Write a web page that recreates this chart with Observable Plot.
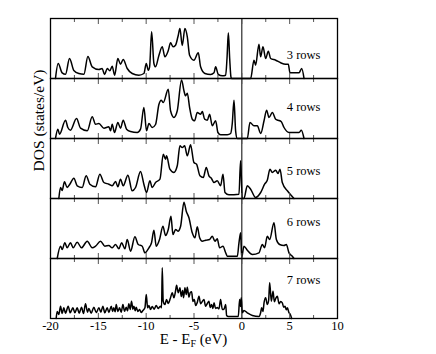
<!DOCTYPE html>
<html><head><meta charset="utf-8">
<script src="https://cdn.jsdelivr.net/npm/d3@7"></script>
<script src="https://cdn.jsdelivr.net/npm/@observablehq/plot@0.6"></script>
<style>body{margin:0;background:#fff} svg{display:block}</style>
</head><body><div id="chart"></div>
<script>
const panels = ["3 rows", "4 rows", "5 rows", "6 rows", "7 rows"];

// [E - EF (eV), DOS] (arbitrary units, 0..60 per panel)
const rows3 = [[-19.48,0],[-19.2,15],[-18.78,5.7],[-18.43,4.3],[-18.01,20],[-17.56,8],[-17.04,5],[-16.51,4.3],[-16.09,22],[-15.64,11.7],[-14.94,9],[-14.6,10],[-14.35,4],[-14.07,10],[-13.8,7.7],[-13.55,12.3],[-13.3,3.3],[-12.96,20],[-12.68,14.3],[-12.4,19],[-11.98,10],[-11.46,5],[-10.76,3.3],[-10.24,5],[-9.99,15],[-9.78,8.3],[-9.64,11.7],[-9.43,46.7],[-9.19,15],[-9.02,11.7],[-8.67,23],[-8.32,31.7],[-8.04,21.7],[-7.69,28],[-7.45,35.7],[-7.2,31.7],[-6.93,33.3],[-6.68,41.7],[-6.47,50],[-6.23,33],[-5.95,50],[-5.7,41.7],[-5.46,23.3],[-5.01,18.3],[-4.55,25.7],[-4.31,11.7],[-3.86,5],[-3.26,4],[-2.91,5.7],[-2.74,11.7],[-2.46,4],[-2.04,2.7],[-1.69,3.3],[-1.55,20],[-1.41,45.7],[-1.27,20],[-1.14,1.7],[-1.07,0],[0.92,0],[1.27,18.3],[1.44,13.3],[1.79,34.3],[1.96,21.7],[2.21,31.7],[2.49,20],[2.77,27.3],[3.01,20],[3.54,18.3],[4.06,15.7],[4.58,14.3],[4.86,14.3],[5.03,5.7],[5.98,5.7],[6.26,10],[6.5,0]];
const rows4 = [[-19.48,0],[-19.23,9.3],[-19.06,4.3],[-18.43,18.3],[-18.19,11],[-17.91,8.3],[-17.28,20],[-16.86,10.3],[-16.16,7.7],[-15.64,21.7],[-15.29,14.3],[-14.94,15],[-14.42,10.3],[-13.9,11.7],[-13.72,7.7],[-13.55,14.3],[-13.31,6],[-12.96,16],[-12.68,10.3],[-12.4,18.3],[-12.05,9.3],[-11.63,7],[-10.93,6],[-10.59,9.3],[-10.24,31],[-9.96,7.7],[-9.71,15],[-9.37,11],[-9.02,14],[-8.67,34],[-8.42,38.3],[-8.21,36],[-7.69,49.3],[-7.45,27.7],[-7.1,21],[-6.75,27.7],[-6.3,58.5],[-6.05,47.7],[-5.88,42.7],[-5.7,45.3],[-5.46,31],[-5.18,19.3],[-4.94,17.7],[-4.66,26],[-4.31,24.3],[-4.13,27],[-3.89,19.3],[-3.61,18.3],[-3.37,24.3],[-3.09,12.7],[-2.74,17.7],[-2.5,6],[-2.22,3.7],[-1.52,3.7],[-1.17,5],[-1.0,15],[-0.82,38.3],[-0.65,7.7],[-0.48,0],[0.57,0],[0.85,16],[1.27,12.7],[1.62,12.7],[1.97,5],[2.32,17.7],[2.59,28.3],[2.84,21],[3.19,26],[3.54,19.3],[3.78,18.3],[4.13,16.7],[4.41,11],[4.93,6],[5.98,6],[6.22,8.3],[6.5,0]];
const rows5 = [[-19.13,0],[-18.95,11],[-18.78,8],[-18.54,16.7],[-18.26,11],[-17.98,14.3],[-17.56,20.3],[-17.21,12.7],[-16.69,11],[-16.27,22.7],[-15.89,14.3],[-15.29,11.7],[-14.84,24.3],[-14.42,16],[-13.9,14.3],[-13.55,12.7],[-13.2,17],[-12.96,11.7],[-12.68,19.3],[-12.4,12.7],[-11.91,23.3],[-11.46,7.7],[-11.11,11],[-10.59,27],[-10.24,14.3],[-9.96,6],[-9.61,17.7],[-9.37,11],[-9.02,16],[-8.56,19.3],[-8.21,44.3],[-7.97,39.3],[-7.87,42.7],[-7.52,29.3],[-7.1,26],[-6.75,32.7],[-6.47,52.7],[-6.23,51],[-5.98,52.7],[-5.7,42.7],[-5.36,53.7],[-5.01,36],[-4.73,34.3],[-4.38,22.7],[-4.03,21],[-3.72,31],[-3.44,22.7],[-3.19,20.3],[-2.91,16],[-2.57,17.7],[-2.22,12.7],[-1.97,24.3],[-1.76,6],[-1.35,3.7],[-0.3,4.3],[-0.13,37.7],[0.05,0],[0.22,0],[0.57,12.7],[0.92,9.3],[1.44,1],[1.97,6],[2.38,14.3],[2.66,18.3],[2.94,29.3],[3.19,26],[3.54,28.3],[3.78,25],[3.99,29.3],[4.23,16],[4.76,7.7],[5.1,3.7],[5.45,0]];
const rows6 = [[-19.3,0],[-18.95,12.3],[-18.78,9],[-18.5,15.7],[-18.26,10.7],[-17.91,15.7],[-17.63,10.7],[-17.21,16.3],[-16.76,10.7],[-16.16,17.3],[-15.64,10.7],[-15.29,12.3],[-14.77,17.3],[-14.32,12.3],[-13.9,13],[-13.55,10.7],[-13.2,14],[-12.85,9.7],[-12.57,15.7],[-12.22,9.7],[-11.98,19],[-11.63,7.3],[-11.18,21.7],[-10.83,14],[-10.41,12.3],[-10.13,5.7],[-9.71,10.7],[-9.44,15.7],[-9.19,28.3],[-8.95,12.3],[-8.6,19],[-8.25,32.3],[-7.97,23],[-7.69,29],[-7.41,42.3],[-7.2,24],[-6.92,29],[-6.68,27.3],[-6.4,32.3],[-6.05,56.3],[-5.81,47.3],[-5.53,40.7],[-5.18,25.7],[-4.9,20.7],[-4.66,31.7],[-4.41,20.7],[-4.13,17.3],[-3.79,18.3],[-3.37,19],[-3.09,22.3],[-2.81,17.3],[-2.57,19.7],[-2.32,10.7],[-1.97,12.3],[-1.69,5.7],[-1.52,2.3],[-0.47,2.3],[-0.3,15.7],[-0.12,25.7],[-0.02,0.7],[0.22,12.3],[0.57,8.3],[1.1,4],[1.79,5.7],[2.14,14],[2.38,10.7],[2.66,22.3],[2.91,19],[3.36,35.7],[3.61,19],[3.95,14],[4.41,13],[4.65,14],[4.93,5.7],[5.28,2.3],[5.45,0]];
const rows7 = [[-19.41,0],[-19.3,7],[-19.13,4],[-18.95,12.3],[-18.78,5],[-18.61,10.7],[-18.43,5.3],[-18.15,12.3],[-17.94,5.7],[-17.66,10.7],[-17.45,5.7],[-17.21,10.7],[-17.0,5.3],[-16.76,11.3],[-16.55,5],[-16.34,14.7],[-16.13,6.3],[-15.99,10],[-15.75,5.3],[-15.47,11.3],[-15.22,6],[-14.94,10.7],[-14.73,6.3],[-14.53,12.3],[-14.32,5.7],[-14.07,10.7],[-13.9,6],[-13.65,12.3],[-13.51,7],[-13.38,10.7],[-13.24,6.7],[-13.13,14],[-12.96,7],[-12.78,10.7],[-12.61,6.3],[-12.43,14],[-12.26,7.3],[-12.09,11.3],[-11.95,7.7],[-11.81,14.7],[-11.67,9],[-11.53,17.3],[-11.39,9.3],[-11.28,12.3],[-11.14,7.7],[-11.04,11.3],[-10.86,7],[-10.69,9],[-10.52,6],[-10.34,8],[-10.13,10.7],[-9.99,24],[-9.85,10.7],[-9.71,13],[-9.54,9],[-9.37,12],[-9.16,9.3],[-8.95,13],[-8.74,10],[-8.53,12.3],[-8.39,10.7],[-8.32,50.7],[-8.22,17.3],[-8.04,14],[-7.87,19],[-7.69,15],[-7.48,20],[-7.27,25.7],[-7.1,20.7],[-6.92,28],[-6.82,33.3],[-6.65,25.7],[-6.47,30.7],[-6.33,22],[-6.19,28],[-6.09,20.7],[-5.95,30.7],[-5.81,24],[-5.7,31.3],[-5.53,21.3],[-5.39,26],[-5.25,26.7],[-5.11,17],[-4.97,19],[-4.83,13],[-4.66,16],[-4.48,22.3],[-4.31,14.7],[-4.13,17],[-3.96,19],[-3.79,12.3],[-3.61,15],[-3.44,17.3],[-3.3,11],[-3.16,14],[-3.02,10],[-2.91,15.7],[-2.74,10],[-2.57,11],[-2.39,9.7],[-2.22,19],[-2.04,9],[-1.87,9.3],[-1.69,14],[-1.59,3],[-1.42,2],[-0.37,2],[-0.23,19],[-0.13,12],[-0.06,20.7],[0.05,5.7],[0.22,8],[0.57,5.7],[1.1,3],[1.79,2],[1.97,6],[2.07,10.7],[2.21,7],[2.32,15.7],[2.49,20.7],[2.66,14],[2.8,18],[2.91,35.7],[3.08,17.3],[3.26,27.3],[3.4,16.7],[3.54,20],[3.71,22.3],[3.89,14.7],[4.06,17],[4.23,15.7],[4.37,11.3],[4.51,12.3],[4.65,8.7],[4.76,10.7],[4.93,5.7],[5.07,4],[5.21,0]];

const majorTicks = [-20, -15, -10, -5, 0, 5, 10];
const minorTicks = [-17.5, -12.5, -7.5, -2.5, 2.5, 7.5];
const labelE = 4.7;
const labelDos = [24, 31.7, 27.7, 36.4, 38.3];
const yTitle = "DOS (states/eV)";

const series = [rows3, rows4, rows5, rows6, rows7];
const data = series.flatMap((s, i) => s.map(([e, dos]) => ({panel: panels[i], e, dos})));
const labels = panels.map((p, i) => ({panel: p, e: labelE, dos: labelDos[i]}));

const chart = Plot.plot({
  width: 436, height: 354,
  marginLeft: 50, marginRight: 99, marginTop: 18, marginBottom: 36,
  style: {fontFamily: "'Liberation Serif', 'Times New Roman', serif", background: "white", color: "black"},
  x: {domain: [-20, 10], label: null, axis: null},
  y: {domain: [0, 60], axis: null},
  fy: {domain: panels, padding: 0, axis: null},
  marks: [
    Plot.ruleX([0], {stroke: "black", strokeWidth: 1}),
    Plot.line(data, {x: "e", y: "dos", fy: "panel", stroke: "black", strokeWidth: 1.5, curve: "monotone-x"}),
    Plot.text(labels, {x: "e", y: "dos", fy: "panel", text: "panel", textAnchor: "start", fontSize: 12.5, fill: "black"}),
    Plot.axisX({anchor: "bottom", ticks: majorTicks, tickSize: -5, facetAnchor: null, tickFormat: () => "", label: null, stroke: "#555"}),
    Plot.axisX({anchor: "top", ticks: majorTicks, tickSize: -5, facetAnchor: null, tickFormat: () => "", label: null, stroke: "#555"}),
    Plot.axisX({anchor: "bottom", ticks: minorTicks, tickSize: -3, facetAnchor: null, tickFormat: () => "", label: null, stroke: "#555"}),
    Plot.axisX({anchor: "top", ticks: minorTicks, tickSize: -3, facetAnchor: null, tickFormat: () => "", label: null, stroke: "#555"}),
    Plot.frame({stroke: "black", strokeWidth: 1.3}),
    Plot.axisX({anchor: "bottom", ticks: majorTicks, tickSize: 0, tickPadding: 3, tickFormat: d => String(d), fontSize: 12.5, label: null, fill: "black"}),
    Plot.text([{panel: "5 rows", t: yTitle}], {fy: "panel", text: "t", frameAnchor: "left", rotate: -90, dx: -11, dy: 3, fontSize: 15.5, fill: "black"})
  ]
});

// x-axis title with subscript F
const xs = chart.scale("x");
const t = d3.select(chart).append("text")
  .attr("x", xs.apply(-5)).attr("y", 344)
  .attr("text-anchor", "middle").attr("font-size", 15).attr("fill", "black");
t.append("tspan").text("E - E");
t.append("tspan").attr("font-size", 10).attr("dy", 3).text("F");
t.append("tspan").attr("dy", -3).text(" (eV)");

document.getElementById("chart").append(chart);
</script>
</body></html>
